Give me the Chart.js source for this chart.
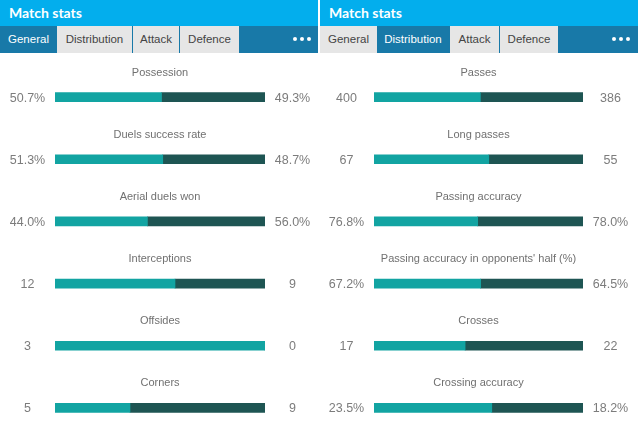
<!DOCTYPE html>
<html>
<head>
<meta charset="utf-8">
<script src="https://cdn.jsdelivr.net/npm/chart.js@4/dist/chart.umd.min.js"></script>
<style>
  html, body { margin: 0; padding: 0; background: #fff; overflow: hidden; width: 640px; height: 427px; }
  .panel { position: absolute; top: 0; width: 318px; height: 427px; overflow: hidden; }
  .head { position: absolute; left: 0; top: 0; width: 100%; height: 26px; background: #03aeed; color: #fff;
    font: bold 14px Lato, "Liberation Sans", sans-serif; line-height: 26px; padding-left: 9px; box-sizing: border-box; }
  .tabs { position: absolute; left: 0; top: 26px; width: 100%; height: 27px; background: #1879a8; }
  .tab { position: absolute; top: 0; height: 27px; text-align: center;
    font: 11.5px "Liberation Sans", Arial, sans-serif; line-height: 27px; color: #444; background: #e6e6e6; }
  .tab.on { background: #1879a8; color: #fff; }
  .dots { position: absolute; top: 11px; }
  .dots span { position: absolute; width: 4px; height: 4px; border-radius: 2px; background: #fff; top: 0; }
  canvas { position: absolute; left: 0; top: 53px; }
</style>
</head>
<body>
<div class="panel" style="left:0">
  <div class="head">Match stats</div>
  <div class="tabs">
    <div class="tab on" style="left:0;width:57px">General</div>
    <div class="tab" style="left:57px;width:75px">Distribution</div>
    <div class="tab" style="left:133px;width:46px">Attack</div>
    <div class="tab" style="left:180px;width:59px">Defence</div>
    <div class="dots" style="left:293px"><span style="left:0"></span><span style="left:7px"></span><span style="left:14px"></span></div>
  </div>
  <canvas id="general" width="318" height="386"></canvas>
</div>
<div class="panel" style="left:320px">
  <div class="head">Match stats</div>
  <div class="tabs">
    <div class="tab" style="left:0;width:57px">General</div>
    <div class="tab on" style="left:57px;width:72px">Distribution</div>
    <div class="tab" style="left:130px;width:49px">Attack</div>
    <div class="tab" style="left:180px;width:58px">Defence</div>
    <div class="dots" style="left:292px"><span style="left:0"></span><span style="left:7px"></span><span style="left:14px"></span></div>
  </div>
  <canvas id="distribution" width="318" height="386"></canvas>
</div>
<script>
'use strict';
// General tab
var generalStats = ['Possession', 'Duels success rate', 'Aerial duels won', 'Interceptions', 'Offsides', 'Corners'];
var generalHome = [50.7, 51.3, 44.0, 12, 3, 5];
var generalAway = [49.3, 48.7, 56.0, 9, 0, 9];
var generalPct = [true, true, true, false, false, false];

// Distribution tab
var distStats = ['Passes', 'Long passes', 'Passing accuracy', 'Passing accuracy in opponents\' half (%)', 'Crosses', 'Crossing accuracy'];
var distHome = [400, 67, 76.8, 67.2, 17, 23.5];
var distAway = [386, 55, 78.0, 64.5, 22, 18.2];
var distPct = [false, false, true, true, false, true];

var homeColor = '#12a4a2';
var awayColor = '#1e5553';

function fmt(v, pct) {
  return pct ? v.toFixed(1) + '%' : String(v);
}

//labels above the bars and numbers on both sides
var statText = {
  id: 'statText',
  afterDatasetsDraw: function (chart) {
    let ctx = chart.ctx;
    let area = chart.chartArea;
    let yScale = chart.scales.y;
    let o = chart.options.plugins.statText;
    let mid = (area.left + area.right) / 2;
    ctx.save();
    ctx.textBaseline = 'middle';
    ctx.textAlign = 'center';
    for (let i = 0; i < o.names.length; i++) {
      let y = yScale.getPixelForValue(i);
      ctx.fillStyle = '#707070';
      ctx.font = '11px "Liberation Sans", Arial, sans-serif';
      ctx.fillText(o.names[i], mid, y - 24.5);
      ctx.fillStyle = '#7c7c7c';
      ctx.font = '12.5px "Liberation Sans", Arial, sans-serif';
      ctx.fillText(fmt(o.home[i], o.pct[i]), area.left - 27.5, y + 1);
      ctx.fillText(fmt(o.away[i], o.pct[i]), area.right + 27.5, y + 1);
    }
    ctx.restore();
  }
};

function drawStats(id, names, home, away, pct, padLeft, padRight) {
  let homeShare = [];
  let awayShare = [];
  for (let i = 0; i < names.length; i++) {
    let total = home[i] + away[i];
    homeShare.push(home[i] / total * 100);
    awayShare.push(away[i] / total * 100);
  }
  // eslint-disable-next-line no-undef
  new Chart(document.getElementById(id).getContext('2d'), {
    type: 'bar',
    data: {
      labels: names,
      datasets: [
        { data: homeShare, backgroundColor: homeColor, borderWidth: 0, barThickness: 9 },
        { data: awayShare, backgroundColor: awayColor, borderWidth: 0, barThickness: 9 }
      ]
    },
    options: {
      indexAxis: 'y',
      responsive: false,
      animation: false,
      layout: { padding: { left: padLeft, right: padRight, top: 13, bottom: 0 } },
      scales: {
        x: { stacked: true, min: 0, max: 100, display: false },
        y: { stacked: true, display: false }
      },
      plugins: {
        legend: { display: false },
        tooltip: { enabled: false },
        statText: { names: names, home: home, away: away, pct: pct }
      }
    },
    plugins: [statText]
  });
}

drawStats('general', generalStats, generalHome, generalAway, generalPct, 55, 53);
drawStats('distribution', distStats, distHome, distAway, distPct, 54, 55);
</script>
</body>
</html>
